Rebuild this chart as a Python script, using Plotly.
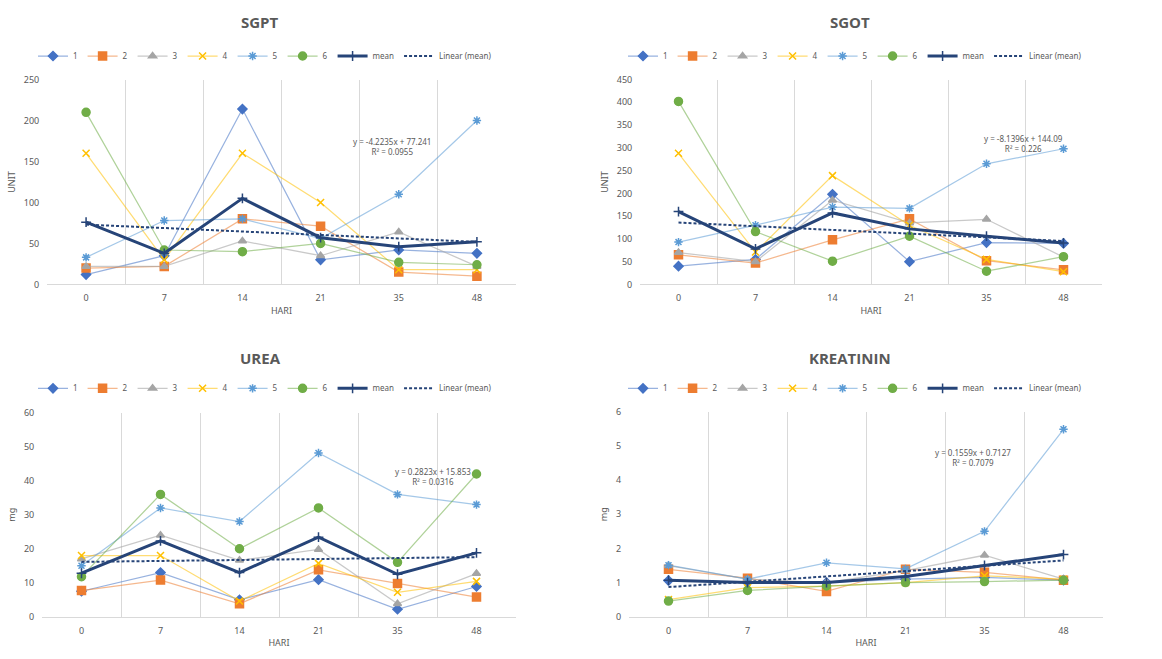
import numpy as np
import plotly.graph_objects as go

# Sampling days (category axis)
HARI = ["0", "7", "14", "21", "35", "48"]
SERIES_NAMES = ["1", "2", "3", "4", "5", "6"]

# SGPT (UNIT)
sgpt_1 = [12, 35, 214, 30, 42, 38]
sgpt_2 = [20, 22, 80, 71, 15, 10]
sgpt_3 = [22, 22, 53, 35, 64, 22]
sgpt_4 = [160, 30, 160, 100, 18, 18]
sgpt_5 = [33, 78, 80, 56, 110, 200]
sgpt_6 = [210, 42, 40, 50, 27, 24]
sgpt_mean = [76, 38, 105, 57, 46, 52]

# SGOT (UNIT)
sgot_1 = [40, 55, 198, 50, 92, 90]
sgot_2 = [65, 47, 98, 144, 52, 32]
sgot_3 = [70, 50, 185, 135, 143, 60]
sgot_4 = [288, 71, 239, 130, 55, 28]
sgot_5 = [93, 130, 170, 167, 265, 298]
sgot_6 = [402, 116, 51, 106, 29, 61]
sgot_mean = [160, 78, 157, 122, 106, 91]

# UREA (mg)
urea_1 = [7.5, 13, 5, 10.9, 2.2, 8.9]
urea_2 = [7.7, 10.8, 3.8, 13.8, 9.8, 5.8]
urea_3 = [17, 24, 16.6, 19.8, 3.8, 12.7]
urea_4 = [18, 18, 4.6, 15.7, 7.2, 10.4]
urea_5 = [15, 32, 28, 48.2, 36, 33]
urea_6 = [11.8, 36, 20, 32, 16, 42]
urea_mean = [12.8, 22.3, 13, 23.4, 12.5, 18.8]

# KREATININ (mg)
krea_1 = [1.06, 1.0, 1.0, 1.1, 1.15, 1.07]
krea_2 = [1.39, 1.13, 0.74, 1.39, 1.3, 1.07]
krea_3 = [1.5, 1.1, 1.0, 1.35, 1.8, 1.1]
krea_4 = [0.5, 0.85, 0.9, 1.0, 1.2, 1.1]
krea_5 = [1.51, 1.1, 1.58, 1.4, 2.5, 5.49]
krea_6 = [0.46, 0.77, 0.9, 1.0, 1.03, 1.07]
krea_mean = [1.07, 1.0, 1.0, 1.18, 1.5, 1.82]

# Linear trend of the mean (x = 1..n)
sgpt_trend = (-4.2235, 77.241, "0.0955")
sgot_trend = (-8.1396, 144.09, "0.226")
urea_trend = (0.2823, 15.853, "0.0316")
krea_trend = (0.1559, 0.7127, "0.7079")

COLORS = ["#4472C4", "#ED7D31", "#A5A5A5", "#FFC000", "#5B9BD5", "#70AD47"]
LINE_COLORS = ["rgba(68,114,196,0.55)", "rgba(237,125,49,0.55)", "rgba(165,165,165,0.6)",
               "rgba(255,192,0,0.55)", "rgba(91,155,213,0.55)", "rgba(112,173,71,0.55)"]
SYMBOLS = ["diamond", "square", "triangle-up", "x-thin-open", "asterisk-open", "circle"]
SIZES = [7, 8, 7, 7, 7, 8]
MEAN_COLOR = "#264478"
GRID = "#D9D9D9"
TXT = "#595959"
FONT = "Noto Sans"

W, H = 1162, 659


def fx(px):
    return px / W


def fy(py):
    return 1 - py / H


panels = [
    dict(title="SGPT", ytitle="UNIT", data=[sgpt_1, sgpt_2, sgpt_3, sgpt_4, sgpt_5, sgpt_6],
         mean=sgpt_mean, trend=sgpt_trend, yrange=[0, 250], dtick=50,
         px=(47, 516), py=(74, 283), title_xy=(260, 15), legend_xy=(265, 50), eq_xy=(392, 142)),
    dict(title="SGOT", ytitle="UNIT", data=[sgot_1, sgot_2, sgot_3, sgot_4, sgot_5, sgot_6],
         mean=sgot_mean, trend=sgot_trend, yrange=[0, 450], dtick=50,
         px=(640, 1102), py=(74, 283), title_xy=(850, 15), legend_xy=(855, 50), eq_xy=(1023, 139)),
    dict(title="UREA", ytitle="mg", data=[urea_1, urea_2, urea_3, urea_4, urea_5, urea_6],
         mean=urea_mean, trend=urea_trend, yrange=[0, 60], dtick=10,
         px=(42, 516), py=(414, 622), title_xy=(260, 358), legend_xy=(265, 389), eq_xy=(433, 479)),
    dict(title="KREATININ", ytitle="mg", data=[krea_1, krea_2, krea_3, krea_4, krea_5, krea_6],
         mean=krea_mean, trend=krea_trend, yrange=[0, 6], dtick=1,
         px=(629, 1103), py=(413, 622), title_xy=(850, 358), legend_xy=(855, 389), eq_xy=(973, 460)),
]

fig = go.Figure()
idx = np.arange(len(HARI))
layout = {}
annotations = []

for k, p in enumerate(panels, start=1):
    sfx = "" if k == 1 else str(k)
    xa, ya = "x" + sfx, "y" + sfx
    leg = "legend" + sfx

    for j, vals in enumerate(p["data"]):
        fig.add_trace(go.Scatter(
            x=idx, y=vals, name=SERIES_NAMES[j], mode="lines+markers",
            line=dict(color=LINE_COLORS[j], width=1.25),
            marker=dict(symbol=SYMBOLS[j], size=SIZES[j], color=COLORS[j],
                        line=dict(color=COLORS[j], width=1.5)),
            xaxis=xa, yaxis=ya, legend=leg))

    fig.add_trace(go.Scatter(
        x=idx, y=p["mean"], name="mean", mode="lines+markers",
        line=dict(color=MEAN_COLOR, width=3),
        marker=dict(symbol="cross-thin-open", size=7, color=MEAN_COLOR,
                    line=dict(color=MEAN_COLOR, width=1.5)),
        xaxis=xa, yaxis=ya, legend=leg))

    slope, icpt, r2 = p["trend"]
    fig.add_trace(go.Scatter(
        x=idx, y=slope * (idx + 1) + icpt, name="Linear (mean)", mode="lines",
        line=dict(color=MEAN_COLOR, width=2, dash="3px,2px"),
        xaxis=xa, yaxis=ya, legend=leg))

    layout["xaxis" + sfx] = dict(
        domain=[fx(p["px"][0]), fx(p["px"][1])], anchor=ya,
        range=[-0.5, len(HARI) - 0.5], tickmode="array", tickvals=list(idx), ticktext=HARI,
        showgrid=False, zeroline=False, showline=True, linecolor=GRID, linewidth=1,
        ticks="outside", ticklen=5, tickcolor="rgba(0,0,0,0)",
        tickfont=dict(size=9, color=TXT, family=FONT),
        minor=dict(tickmode="array", tickvals=list(idx[:-1] + 0.5), showgrid=True,
                   gridcolor=GRID, gridwidth=1, ticks=""),
        title=dict(text="HARI", font=dict(size=9, color=TXT, family=FONT), standoff=4),
    )
    layout["yaxis" + sfx] = dict(
        domain=[fy(p["py"][1]), fy(p["py"][0])], anchor=xa,
        range=p["yrange"], dtick=p["dtick"], showgrid=False, zeroline=False, showline=False,
        ticks="outside", ticklen=5, tickcolor="rgba(0,0,0,0)",
        tickfont=dict(size=9, color=TXT, family=FONT),
        title=dict(text=p["ytitle"], font=dict(size=9, color=TXT, family=FONT), standoff=6),
    )
    layout[leg] = dict(
        orientation="h", x=fx(p["legend_xy"][0]), y=fy(p["legend_xy"][1]),
        xanchor="center", yanchor="middle", bgcolor="rgba(0,0,0,0)",
        font=dict(size=8, color=TXT, family=FONT), itemwidth=30, tracegroupgap=0,
    )

    annotations.append(dict(
        text="<b>%s</b>" % p["title"], x=fx(p["title_xy"][0]), y=fy(p["title_xy"][1]),
        xref="paper", yref="paper", showarrow=False, xanchor="center", yanchor="middle",
        font=dict(size=15, color=TXT, family="Open Sans")))
    annotations.append(dict(
        text="y = %sx + %s<br>R² = %s" % (slope, icpt, r2),
        x=fx(p["eq_xy"][0]), y=fy(p["eq_xy"][1]), xref="paper", yref="paper",
        showarrow=False, xanchor="center", yanchor="middle", align="center",
        font=dict(size=8, color=TXT, family=FONT)))

fig.update_layout(
    width=W, height=H, margin=dict(l=0, r=0, t=0, b=0),
    paper_bgcolor="white", plot_bgcolor="white",
    annotations=annotations, **layout)

fig.write_html("out.html")
